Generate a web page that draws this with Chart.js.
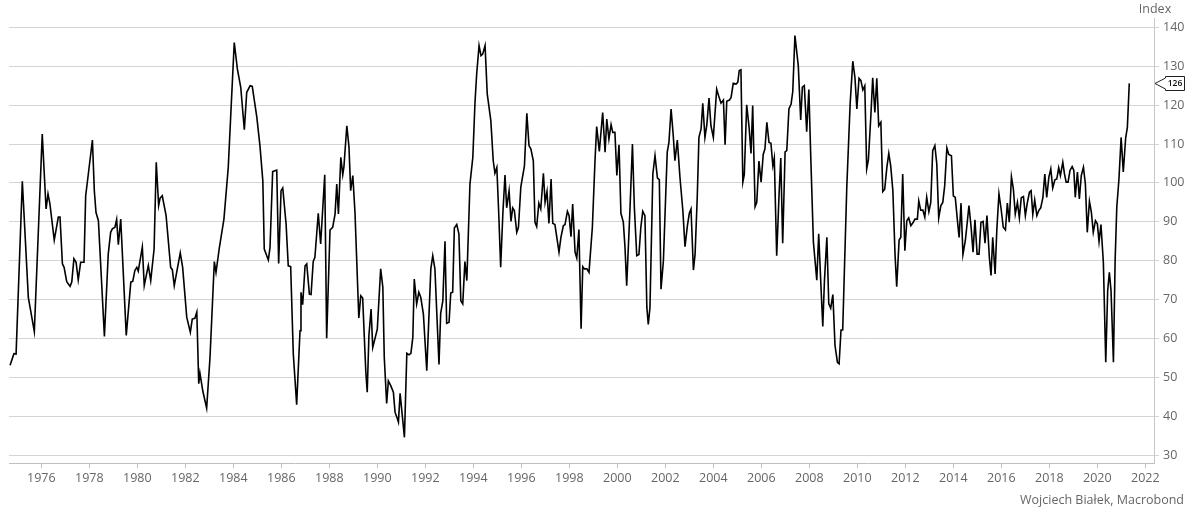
<!DOCTYPE html>
<html>
<head>
<meta charset="utf-8">
<script src="https://cdn.jsdelivr.net/npm/chart.js@4.4.1/dist/chart.umd.min.js"></script>
<style>
  html, body { margin: 0; padding: 0; background: #fff; }
  #wrap { width: 1192px; height: 509px; }
</style>
</head>
<body>
<div id="wrap"><canvas id="indexChart" width="1192" height="509"></canvas></div>
<script>
// ================= DATA =================
// dates as decimal years
const dates = [
  1974.70,1974.86,1974.95,1975.21,1975.46,1975.71,1976.04,1976.20,1976.28,1976.36,
  1976.54,1976.71,1976.78,1976.88,1976.95,1977.06,1977.20,1977.27,1977.36,1977.45,
  1977.54,1977.64,1977.78,1977.85,1977.96,1978.13,1978.21,1978.28,1978.38,1978.63,
  1978.79,1978.89,1978.96,1979.07,1979.14,1979.21,1979.31,1979.54,1979.73,1979.81,
  1979.90,1979.98,1980.04,1980.21,1980.29,1980.46,1980.56,1980.70,1980.79,1980.89,
  1980.95,1981.04,1981.20,1981.39,1981.46,1981.54,1981.79,1981.89,1982.06,1982.21,
  1982.29,1982.40,1982.48,1982.56,1982.61,1982.73,1982.89,1983.03,1983.21,1983.28,
  1983.42,1983.61,1983.79,1983.89,1984.04,1984.17,1984.31,1984.46,1984.56,1984.70,
  1984.79,1984.98,1985.11,1985.23,1985.29,1985.46,1985.53,1985.64,1985.81,1985.89,
  1985.99,1986.06,1986.20,1986.29,1986.39,1986.50,1986.64,1986.78,1986.82,1986.89,
  1986.99,1987.06,1987.17,1987.24,1987.33,1987.40,1987.54,1987.64,1987.81,1987.89,
  1988.03,1988.14,1988.24,1988.31,1988.38,1988.48,1988.56,1988.61,1988.73,1988.82,
  1988.89,1988.98,1989.07,1989.23,1989.31,1989.39,1989.52,1989.58,1989.65,1989.74,
  1989.81,1989.90,1990.00,1990.14,1990.23,1990.29,1990.39,1990.46,1990.56,1990.67,
  1990.74,1990.83,1990.88,1990.95,1991.13,1991.23,1991.32,1991.40,1991.48,1991.54,
  1991.64,1991.73,1991.81,1991.92,1992.06,1992.23,1992.31,1992.40,1992.57,1992.64,
  1992.73,1992.82,1992.89,1992.99,1993.06,1993.14,1993.21,1993.31,1993.40,1993.48,
  1993.56,1993.65,1993.73,1993.86,1993.98,1994.07,1994.14,1994.24,1994.32,1994.39,
  1994.49,1994.58,1994.73,1994.83,1994.90,1994.98,1995.06,1995.14,1995.23,1995.32,
  1995.39,1995.49,1995.57,1995.64,1995.71,1995.81,1995.88,1995.98,1996.13,1996.23,
  1996.32,1996.40,1996.50,1996.57,1996.64,1996.73,1996.81,1996.92,1996.99,1997.07,
  1997.15,1997.24,1997.31,1997.40,1997.57,1997.65,1997.75,1997.82,1997.92,1997.99,
  1998.07,1998.14,1998.24,1998.31,1998.40,1998.49,1998.56,1998.63,1998.73,1998.82,
  1998.96,1999.07,1999.14,1999.25,1999.39,1999.49,1999.56,1999.65,1999.74,1999.81,
  1999.90,1999.98,2000.07,2000.15,2000.25,2000.32,2000.39,2000.53,2000.63,2000.71,
  2000.81,2000.90,2000.98,2001.06,2001.15,2001.23,2001.29,2001.36,2001.48,2001.57,
  2001.67,2001.75,2001.82,2001.92,2002.02,2002.08,2002.15,2002.24,2002.33,2002.40,
  2002.50,2002.61,2002.73,2002.82,2002.92,2003.00,2003.07,2003.17,2003.24,2003.33,
  2003.40,2003.49,2003.56,2003.65,2003.73,2003.82,2003.90,2004.00,2004.14,2004.24,
  2004.32,2004.42,2004.49,2004.56,2004.67,2004.74,2004.83,2004.95,2005.02,2005.08,
  2005.15,2005.23,2005.29,2005.39,2005.49,2005.57,2005.64,2005.74,2005.81,2005.90,
  2005.99,2006.08,2006.15,2006.23,2006.32,2006.40,2006.48,2006.54,2006.64,2006.74,
  2006.81,2006.89,2006.99,2007.06,2007.15,2007.24,2007.31,2007.40,2007.54,2007.64,
  2007.71,2007.79,2007.89,2007.98,2008.06,2008.17,2008.31,2008.39,2008.48,2008.56,
  2008.63,2008.73,2008.81,2008.89,2008.98,2009.07,2009.17,2009.24,2009.32,2009.39,
  2009.56,2009.70,2009.81,2009.90,2009.98,2010.07,2010.15,2010.23,2010.31,2010.39,
  2010.46,2010.56,2010.64,2010.73,2010.81,2010.89,2010.98,2011.06,2011.14,2011.23,
  2011.31,2011.39,2011.48,2011.57,2011.64,2011.74,2011.81,2011.89,2011.98,2012.06,
  2012.14,2012.23,2012.33,2012.40,2012.50,2012.56,2012.64,2012.73,2012.81,2012.89,
  2012.98,2013.06,2013.14,2013.23,2013.31,2013.39,2013.48,2013.56,2013.64,2013.73,
  2013.81,2013.92,2014.00,2014.08,2014.17,2014.24,2014.32,2014.40,2014.50,2014.58,
  2014.65,2014.74,2014.82,2014.90,2014.99,2015.07,2015.15,2015.24,2015.32,2015.40,
  2015.50,2015.57,2015.64,2015.74,2015.81,2015.90,2015.99,2016.08,2016.17,2016.25,
  2016.33,2016.42,2016.50,2016.58,2016.67,2016.75,2016.83,2016.92,2017.00,2017.08,
  2017.17,2017.24,2017.31,2017.39,2017.48,2017.56,2017.64,2017.73,2017.81,2017.89,
  2017.98,2018.06,2018.14,2018.23,2018.31,2018.39,2018.46,2018.56,2018.63,2018.70,
  2018.78,2018.86,2018.95,2019.02,2019.08,2019.17,2019.25,2019.33,2019.42,2019.50,
  2019.58,2019.67,2019.75,2019.83,2019.92,2020.00,2020.07,2020.15,2020.25,2020.35,
  2020.43,2020.50,2020.57,2020.67,2020.74,2020.81,2020.90,2020.99,2021.08,2021.18,
  2021.25,2021.33
];

const values = [
  53.1,56.1,56.0,100.4,70.6,61.8,112.6,93.3,97.2,94.6,
  85.3,91.2,91.2,79.2,78.3,74.6,73.4,74.5,80.5,79.6,
  75.1,79.6,79.6,96.7,102.3,111.0,98.0,92.4,90.3,60.5,
  81.7,87.3,88.2,88.6,90.6,84.1,90.7,60.8,74.5,74.7,
  77.5,78.3,77.3,83.5,73.6,78.8,74.9,83.0,105.3,94.2,
  96.1,96.7,91.6,78.3,77.7,73.6,82.0,78.3,65.5,61.6,
  65.0,65.2,66.8,48.4,51.1,46.5,42.1,55.2,79.8,77.0,
  83.4,90.7,104.0,116.9,136.1,129.3,124.6,113.7,123.3,125.0,
  124.8,116.9,109.6,100.6,83.0,80.2,83.4,102.9,103.3,79.3,
  98.0,98.7,89.4,78.7,78.5,56.0,43.0,62.0,71.9,68.7,
  78.7,79.2,71.4,71.3,79.8,80.9,92.2,84.3,102.1,60.1,
  87.9,88.6,92.0,99.7,92.0,106.6,102.1,104.2,114.7,109.2,
  98.0,101.9,92.4,65.3,71.0,70.4,51.6,46.2,60.7,67.6,
  57.7,59.9,62.4,77.9,73.2,55.2,43.3,49.1,47.9,46.2,
  41.0,39.5,38.5,45.9,34.6,56.2,55.8,56.2,60.3,75.3,
  68.9,71.9,70.6,66.3,51.7,77.9,81.3,77.9,53.3,66.5,
  69.7,85.0,63.9,64.2,71.7,71.9,88.4,89.3,86.9,69.7,
  68.9,79.8,74.9,99.7,106.6,120.7,128.0,135.3,132.7,133.1,
  135.3,122.9,116.0,105.7,102.5,104.0,92.0,78.3,92.0,102.0,
  93.6,98.0,90.1,93.6,92.9,87.3,88.6,99.0,104.4,117.9,
  109.6,108.7,105.7,89.9,88.8,94.8,93.3,102.5,95.0,97.8,
  89.6,101.0,89.6,89.3,82.2,86.0,89.0,89.3,92.7,91.6,
  86.2,94.6,82.2,80.7,88.0,62.5,78.5,77.9,77.9,77.0,
  88.6,105.7,114.5,108.1,118.1,107.9,116.4,111.3,115.0,113.0,
  113.0,101.9,109.8,92.2,89.9,83.4,73.6,93.7,110.0,93.7,
  81.3,81.6,88.6,92.7,91.6,68.0,63.6,68.0,102.3,107.0,
  101.3,100.8,72.7,80.0,97.6,107.9,110.4,119.0,112.2,105.7,
  111.0,101.4,92.9,83.6,89.0,92.2,93.3,77.6,81.7,96.3,
  111.7,113.9,120.5,111.7,115.0,121.8,114.7,111.7,124.1,122.0,
  120.5,121.3,109.8,121.0,121.3,122.0,125.6,125.4,125.9,128.9,
  129.1,100.2,102.1,120.1,114.3,107.6,119.9,93.9,95.0,105.6,
  100.2,107.4,108.7,115.6,110.4,110.2,104.4,106.4,81.3,97.2,
  106.4,84.5,108.0,108.3,119.0,120.3,123.5,137.9,130.1,116.2,
  124.6,125.0,113.2,124.0,106.6,84.7,75.0,86.9,74.0,63.1,
  74.9,86.0,68.9,67.8,71.3,58.2,53.9,53.5,62.2,62.2,
  98.9,120.3,131.3,127.1,119.0,126.9,126.3,123.9,125.0,103.6,
  105.9,116.9,127.0,118.1,126.9,114.7,115.6,97.8,98.4,104.0,
  107.6,104.4,98.0,81.7,73.3,85.3,86.0,102.3,82.6,90.3,
  91.0,89.0,89.9,90.7,90.7,95.4,93.0,93.0,91.2,96.3,
  92.6,95.0,108.3,109.6,104.9,91.0,94.2,95.0,99.3,109.0,
  107.3,107.0,96.7,96.3,90.3,86.0,94.8,81.6,85.2,89.9,
  94.2,88.6,82.2,90.5,81.7,81.7,89.9,90.1,84.5,91.6,
  80.9,76.2,86.0,76.6,87.8,97.2,93.3,88.6,87.9,94.8,
  89.9,101.6,98.5,92.0,95.0,91.0,96.2,96.5,91.6,94.8,
  97.6,98.0,91.9,95.6,91.6,92.9,93.6,96.2,102.3,96.3,
  101.5,103.6,98.7,100.8,101.0,103.9,101.9,105.3,102.3,100.2,
  100.2,103.2,104.2,103.2,96.3,102.8,95.9,101.9,104.0,99.8,
  87.3,95.3,92.5,87.3,90.3,89.5,84.9,89.3,79.6,53.9,
  72.3,77.0,72.3,53.9,80.0,93.8,101.0,111.7,102.8,111.6,
  114.3,125.6
];

const xRange = [1974.655, 2022.36];
const yRange = [28, 142.4];
const xStep = 2;
const yStep = 10;
const yTitle = "Index";
const credit = "Wojciech Białek, Macrobond";

// ================= PLUGINS =================
const textAndCallout = {
  id: "textAndCallout",
  afterDraw(chart) {
    const { ctx, chartArea, scales } = chart;
    const y = scales.y;
    ctx.save();

    ctx.font = '12.5px "Open Sans", sans-serif';
    ctx.fillStyle = "#666";
    ctx.textBaseline = "middle";
    ctx.textAlign = "center";
    ctx.fillText(yTitle, y.left + 1, chartArea.top - 8.5);

    ctx.textAlign = "right";
    ctx.fillText(credit, chart.width - 8, chart.height - 8.5);

    // last value callout
    const last = values[values.length - 1];
    const py = Math.round(y.getPixelForValue(last)) + 0.5;
    const tip = chartArea.right + 1;
    const bx = Math.round(tip + 10) + 0.5, bw = 19, bh = 14;
    ctx.beginPath();
    ctx.moveTo(tip, py);
    ctx.lineTo(bx, py - 5.5);
    ctx.lineTo(bx, py - bh / 2);
    ctx.lineTo(bx + bw, py - bh / 2);
    ctx.lineTo(bx + bw, py + bh / 2);
    ctx.lineTo(bx, py + bh / 2);
    ctx.lineTo(bx, py + 5.5);
    ctx.closePath();
    ctx.fillStyle = "#fff";
    ctx.fill();
    ctx.strokeStyle = "#222";
    ctx.lineWidth = 1;
    ctx.stroke();

    ctx.fillStyle = "#111";
    ctx.font = '600 8.5px "Open Sans", sans-serif';
    ctx.textAlign = "center";
    ctx.fillText(Math.round(last), bx + bw / 2, py + 0.5);
    ctx.restore();
  }
};

// ================= CHART =================
Chart.defaults.font.family = '"Open Sans", sans-serif';
Chart.defaults.font.size = 12.5;
Chart.defaults.color = "#666";

const points = dates.map((d, i) => ({ x: d, y: values[i] }));

new Chart(document.getElementById("indexChart").getContext("2d"), {
  type: "line",
  data: {
    datasets: [
      {
        data: points,
        borderColor: "#000",
        borderWidth: 1.6,
        pointRadius: 0,
        tension: 0,
        fill: false
      }
    ]
  },
  options: {
    responsive: false,
    animation: false,
    layout: { padding: { top: 18, left: 9, right: 7, bottom: 20 } },
    plugins: {
      legend: { display: false },
      tooltip: { enabled: false }
    },
    scales: {
      x: {
        type: "linear",
        min: xRange[0],
        max: xRange[1],
        border: { display: true, color: "#bfbfbf", width: 1 },
        grid: { drawOnChartArea: false, drawTicks: true, tickLength: 5, color: "#bfbfbf" },
        ticks: {
          stepSize: xStep,
          includeBounds: false,
          autoSkip: false,
          maxRotation: 0,
          padding: 3,
          color: "#666",
          callback: (v) => String(v)
        }
      },
      y: {
        position: "right",
        min: yRange[0],
        max: yRange[1],
        border: { display: true, color: "#c8c8c8", width: 1 },
        grid: { color: "#d4d4d4", lineWidth: 1, drawTicks: true, tickLength: 5 },
        ticks: {
          stepSize: yStep,
          includeBounds: false,
          padding: 4,
          color: "#666",
          callback: (v) => String(v)
        },
        afterFit: (scale) => { scale.width = 31; }
      }
    }
  },
  plugins: [textAndCallout]
});
</script>
</body>
</html>
